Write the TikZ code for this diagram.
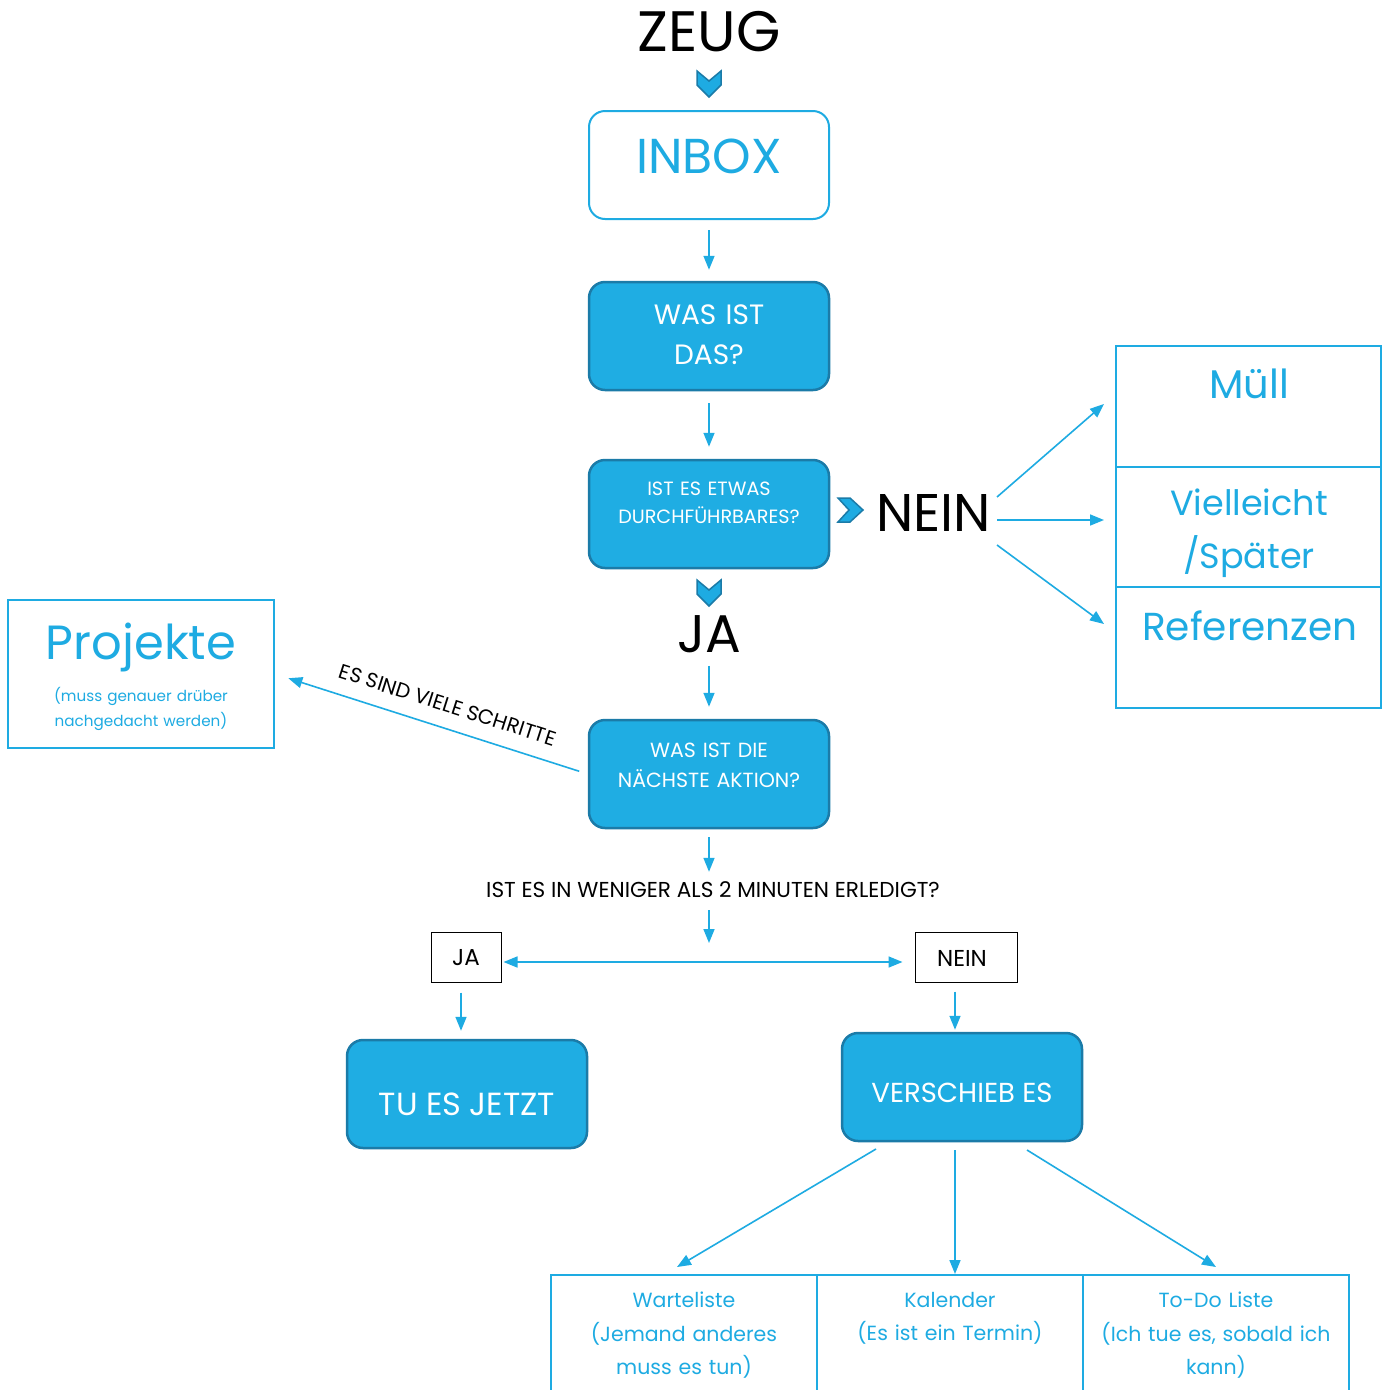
\documentclass[tikz,border=0pt]{standalone}
\usepackage{fontspec}
\setmainfont{Poppins}
\usetikzlibrary{arrows.meta}
\definecolor{lb}{HTML}{1EABE2}
\definecolor{db}{HTML}{1B7BA8}
\definecolor{fb}{HTML}{1FADE3}
\newcommand{\fs}[1]{\fontsize{#1}{1.2\dimexpr#1pt\relax}\selectfont}
\newcommand{\fsl}[2]{\fontsize{#1}{#2}\selectfont}
\begin{document}
\begin{tikzpicture}[x=1pt,y=-1pt,
  arr/.style={draw=lb, line width=1.6pt, -{Triangle[width=11pt,length=14pt]}},
  fillbox/.style={draw=db, line width=2.5pt, fill=fb, rounded corners=16pt, minimum width=240pt, minimum height=108pt, inner sep=0pt},
  linebox/.style={draw=lb, line width=2pt, rounded corners=16pt, minimum width=240pt, minimum height=108pt, inner sep=0pt},
  cell/.style={draw=lb, line width=2pt, minimum width=265pt, inner sep=0pt},
  wt/.style={text=white, align=center, inner sep=2pt},
  bt/.style={text=lb, align=center, inner sep=2pt},
  chev/.style={fill=lb, draw=db, line width=1.5pt, line join=miter},
  smallbox/.style={draw=black, line width=1pt, minimum height=50pt, inner sep=0pt}
]
\useasboundingbox[fill=white] (0,0) rectangle (1387,1390);

% top
\node[font=\fs{57}, inner sep=0pt] (zeug) at (709,32) {ZEUG};
\filldraw[chev] (697,71) -- (709,81) -- (721,71) -- (721,85) -- (709,97) -- (697,85) -- cycle;

\node[linebox] (inbox) at (709,165) {};
\node[bt, font=\fs{49}] (inboxt) at (709,156) {INBOX};

\node[fillbox] (wasist) at (709,336) {};
\node[wt, font=\fsl{28}{40}, text width=220pt] (wasistt) at (709,335) {WAS IST\\DAS?};

\node[fillbox] (durch) at (709,514) {};
\node[wt, font=\fsl{19.2}{28}, text width=230pt] (durcht) at (709,503) {IST ES ETWAS\\DURCHFÜHRBARES?};

\draw[arr, shorten <=10pt, shorten >=11pt] (inbox) -- (wasist);
\draw[arr, shorten <=12pt, shorten >=12pt] (wasist) -- (durch);

% NEIN branch
\filldraw[chev] (838,498) -- (850,498) -- (863,510) -- (850,522) -- (838,522) -- (849,510) -- cycle;
\node[font=\fs{53}, inner sep=0pt, anchor=west] (nein) at (876,513) {NEIN};

\node[cell, minimum height=121pt] (muell) at (1248.5,406.5) {};
\node[cell, minimum height=120pt] (viel) at (1248.5,527) {};
\node[cell, minimum height=121pt] (ref) at (1248.5,647.5) {};
\node[bt, font=\fs{40}] (muellt) at (1249,384) {Müll};
\node[bt, font=\fs{35}] (vielt) at (1249,502) {Vielleicht};
\node[bt, font=\fs{35}] (spaet) at (1249,557) {/Später};
\node[bt, font=\fs{39}] (reft) at (1250,626) {Referenzen};

\coordinate (n1) at (997,497);
\coordinate (n2) at (997,520);
\coordinate (n3) at (997,545);
\coordinate (m1) at (1104,404);
\coordinate (m2) at (1104,520);
\coordinate (m3) at (1104,624);
\draw[arr] (n1) -- (m1);
\draw[arr] (n2) -- (m2);
\draw[arr] (n3) -- (m3);

% JA branch
\filldraw[chev] (697,580) -- (709,590) -- (721,580) -- (721,594) -- (709,606) -- (697,594) -- cycle;
\node[font=\fs{53}, inner sep=0pt] (ja) at (709,634) {JA};

\node[fillbox] (naechste) at (709,774) {};
\node[wt, font=\fsl{20.5}{30}, text width=230pt] (naechstet) at (709,765) {WAS IST DIE\\NÄCHSTE AKTION?};
\draw[arr, shorten <=13pt, shorten >=12pt] (ja) -- (naechste);

% Projekte
\node[draw=lb, line width=2pt, minimum width=266pt, minimum height=148pt, inner sep=0pt] (proj) at (141,674) {};
\node[bt, font=\fs{48}] (projt) at (141,647) {Projekte};
\node[bt, font=\fsl{15.2}{25}, text width=250pt] (projs) at (141,709) {(muss genauer drüber\\nachgedacht werden)};
\draw[arr, shorten <=9pt, shorten >=14pt] (naechste.west) -- node[pos=0.47, sloped, above=15pt, font=\fs{20.5}, text=black, inner sep=0pt] (schritte) {ES SIND VIELE SCHRITTE} (proj.east);

% two-minute question
\node[font=\fs{21.6}, inner sep=0pt] (frage) at (713,890) {IST ES IN WENIGER ALS 2 MINUTEN ERLEDIGT?};
\coordinate (mitte) at (709,962);
\draw[arr, shorten <=8pt, shorten >=10pt] (naechste.south) -- (naechste.south |- frage.north);
\draw[arr, shorten <=12pt, shorten >=19pt] (frage.south -| mitte) -- (mitte);

\node[smallbox, minimum width=70pt] (jab) at (466,957) {};
\node[font=\fs{23}, inner sep=0pt] (jabt) at (466,958) {JA};
\node[smallbox, minimum width=102pt] (neinb) at (966,957) {};
\node[font=\fs{23}, inner sep=0pt] (neinbt) at (962,958) {NEIN};
\draw[draw=lb, line width=1.6pt, {Triangle[width=11pt,length=14pt]}-{Triangle[width=11pt,length=14pt]}, shorten <=2pt, shorten >=12pt] (jab.east |- mitte) -- (neinb.west |- mitte);

\node[fillbox] (tu) at (467,1094) {};
\node[wt, font=\fs{32}] (tut) at (467,1104) {TU ES JETZT};
\node[fillbox] (versch) at (962,1087) {};
\node[wt, font=\fs{27.5}] (verscht) at (962,1093) {VERSCHIEB ES};

\draw[arr, shorten <=10pt, shorten >=8pt] (jab.south -| 461,0) -- (tu.north -| 461,0);
\draw[arr, shorten <=9pt, shorten >=2pt] (neinb.south -| 955,0) -- (versch.north -| 955,0);

% bottom cells
\node[cell, minimum width=266pt, minimum height=140pt, anchor=north] (warte) at (684,1274) {};
\node[cell, minimum width=266pt, minimum height=140pt, anchor=north] (kal) at (950,1274) {};
\node[cell, minimum width=266pt, minimum height=140pt, anchor=north] (todo) at (1216,1274) {};
\node[bt, font=\fsl{20.5}{33.5}, text width=300pt, anchor=north] (wartet) at (684,1290) {Warteliste\\(Jemand anderes\\muss es tun)};
\node[bt, font=\fsl{20.5}{33.5}, text width=300pt, anchor=north] (kalt) at (950,1290) {Kalender\\(Es ist ein Termin)};
\node[bt, font=\fsl{20.5}{33.5}, text width=300pt, anchor=north] (todot) at (1216,1290) {To-Do Liste\\(Ich tue es, sobald ich\\kann)};

\coordinate (v1) at (876,1149);
\coordinate (v2) at (955,1150);
\coordinate (v3) at (1027,1150);
\coordinate (w1) at (677,1267);
\coordinate (w3) at (1216,1267);
\draw[arr] (v1) -- (w1);
\draw[arr] (v2) -- (kal.north -| v2);
\draw[arr] (v3) -- (w3);
\end{tikzpicture}
\end{document}
